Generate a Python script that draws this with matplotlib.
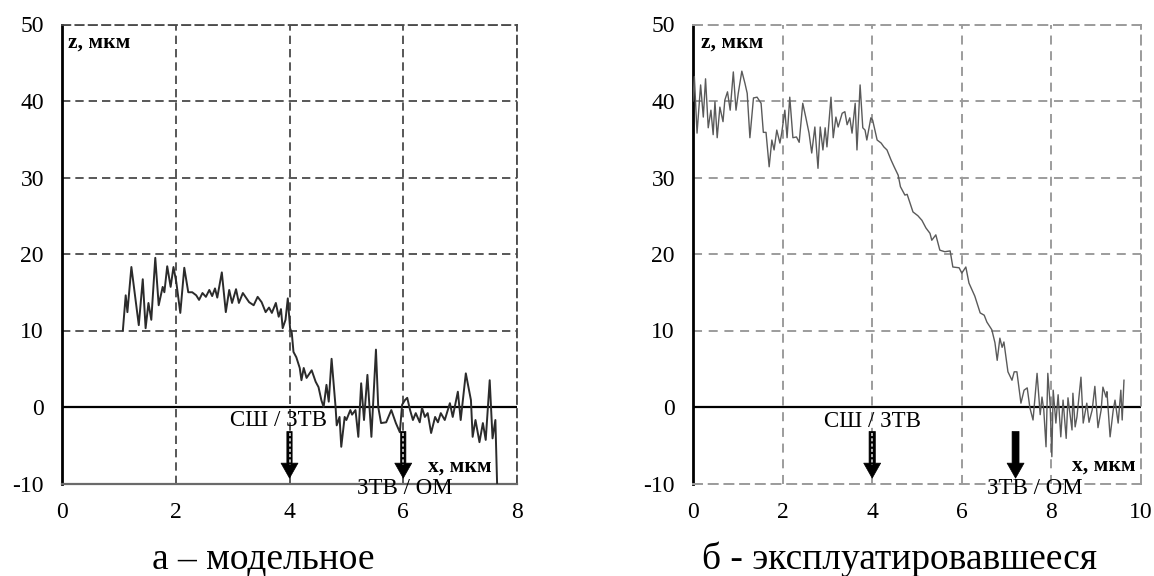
import matplotlib
matplotlib.use("Agg")
import matplotlib.pyplot as plt

plt.rcParams['font.family'] = ['Liberation Serif', 'DejaVu Serif']
plt.rcParams['lines.scale_dashes'] = False
plt.rcParams['axes.unicode_minus'] = False

# ---- data: left panel (model sample) ----
x_model = [1.07, 1.12, 1.15, 1.22, 1.35, 1.42, 1.47, 1.52, 1.57, 1.64, 1.70, 1.77, 1.80, 1.85, 1.91,
           1.96, 2.01, 2.08, 2.15, 2.22, 2.29, 2.36, 2.41, 2.47, 2.53, 2.59, 2.64, 2.69, 2.73, 2.81,
           2.88, 2.94, 2.99, 3.06, 3.11, 3.18, 3.29, 3.37, 3.44, 3.51, 3.58, 3.64, 3.69, 3.76, 3.81,
           3.85, 3.88, 3.93, 3.97, 4.01, 4.04, 4.07, 4.12, 4.18, 4.21, 4.25, 4.30, 4.39, 4.46, 4.51,
           4.56, 4.60, 4.65, 4.69, 4.74, 4.81, 4.83, 4.88, 4.91, 4.97, 5.00, 5.07, 5.10, 5.16, 5.21,
           5.26, 5.31, 5.37, 5.44, 5.52, 5.56, 5.61, 5.70, 5.79, 5.87, 5.94, 5.98, 6.03, 6.07, 6.12,
           6.17, 6.22, 6.29, 6.33, 6.38, 6.43, 6.49, 6.56, 6.61, 6.66, 6.73, 6.82, 6.87, 6.96, 7.01,
           7.10, 7.19, 7.22, 7.27, 7.34, 7.40, 7.45, 7.52, 7.57, 7.62, 7.65]
z_model = [10.0, 14.6, 12.4, 18.3, 10.7, 16.7, 10.3, 13.6, 11.4, 19.5, 13.3, 15.7, 15.0, 18.4, 15.7,
           18.3, 16.3, 12.3, 18.2, 15.0, 15.0, 14.6, 14.0, 14.9, 14.4, 15.3, 14.5, 15.5, 14.3, 17.6,
           12.4, 15.3, 13.6, 15.4, 13.6, 14.9, 13.7, 13.3, 14.4, 13.7, 12.4, 13.0, 12.3, 13.6, 11.8,
           12.8, 10.3, 11.4, 14.2, 10.3, 9.7, 7.2, 6.5, 5.1, 3.5, 5.1, 3.8, 4.8, 3.3, 2.6,
           0.9, 0.0, 2.9, 0.7, 6.3, 0.0, -2.4, -1.3, -5.2, -1.3, -1.7, -0.4, -1.0, -0.4, -3.9,
           3.1, -1.7, 4.2, -3.9, 7.5, 0.0, -2.1, -2.0, -0.4, -2.1, -3.3, 0.3, 0.9, 1.2, -0.4,
           -1.7, -0.8, -2.0, -0.1, -1.3, -0.8, -3.4, -1.3, -2.0, -0.8, -1.7, 0.5, -1.3, 2.0, -1.7,
           4.4, 0.9, -3.9, -1.7, -4.6, -2.1, -4.3, 3.5, -4.1, -1.7, -10.0]

# ---- data: right panel (operated sample) ----
x_oper = [0.00, 0.03, 0.09, 0.17, 0.23, 0.28, 0.34, 0.40, 0.45, 0.49, 0.54, 0.60, 0.67, 0.71, 0.77,
          0.83, 0.90, 0.96, 1.01, 1.09, 1.16, 1.21, 1.27, 1.35, 1.43, 1.52, 1.57, 1.63, 1.70, 1.76,
          1.81, 1.87, 1.94, 1.98, 2.05, 2.10, 2.16, 2.23, 2.31, 2.37, 2.45, 2.52, 2.59, 2.65, 2.72,
          2.79, 2.84, 2.90, 2.95, 2.99, 3.08, 3.13, 3.19, 3.24, 3.33, 3.39, 3.44, 3.50, 3.55, 3.62,
          3.66, 3.73, 3.79, 3.84, 3.88, 3.97, 4.01, 4.06, 4.11, 4.20, 4.26, 4.33, 4.42, 4.49, 4.58,
          4.63, 4.73, 4.78, 4.91, 5.02, 5.11, 5.20, 5.29, 5.33, 5.42, 5.51, 5.62, 5.74, 5.80, 5.94,
          6.00, 6.09, 6.16, 6.29, 6.41, 6.50, 6.56, 6.67, 6.74, 6.79, 6.85, 6.90, 6.94, 7.03, 7.12,
          7.17, 7.23, 7.32, 7.39, 7.46, 7.52, 7.59, 7.68, 7.75, 7.79, 7.83, 7.88, 7.92, 7.97, 8.01,
          8.04, 8.10, 8.15, 8.21, 8.26, 8.33, 8.37, 8.46, 8.48, 8.53, 8.57, 8.66, 8.71, 8.79, 8.84,
          8.91, 8.97, 9.04, 9.11, 9.15, 9.22, 9.24, 9.31, 9.38, 9.42, 9.49, 9.55, 9.58, 9.62]
z_oper = [40.0, 43.2, 35.8, 42.1, 37.9, 42.9, 36.5, 38.8, 35.6, 39.9, 35.2, 39.2, 37.3, 40.1, 41.2,
          38.8, 43.8, 38.8, 41.0, 43.9, 42.3, 41.0, 35.2, 40.4, 40.5, 39.7, 35.9, 35.9, 31.4, 34.9,
          33.6, 36.2, 34.5, 35.8, 38.8, 35.2, 40.5, 35.2, 35.3, 34.6, 39.7, 37.8, 35.8, 33.2, 36.6,
          31.2, 36.6, 33.6, 36.5, 34.0, 40.5, 35.2, 37.9, 36.6, 38.4, 38.6, 36.9, 37.8, 35.8, 39.7,
          33.6, 42.1, 36.5, 36.2, 34.9, 37.8, 37.5, 36.2, 34.9, 34.5, 34.0, 33.6, 32.3, 31.4, 30.3,
          28.8, 27.7, 27.8, 25.5, 25.0, 24.4, 23.4, 22.7, 21.8, 22.5, 20.5, 20.3, 20.4, 18.3, 18.2,
          17.5, 18.3, 16.2, 14.5, 12.3, 12.0, 11.1, 10.1, 8.4, 6.1, 9.0, 7.8, 8.5, 4.6, 3.5,
          4.6, 4.6, 0.5, 2.2, 2.5, -0.1, -1.7, 4.4, -1.0, 1.3, -0.4, -5.2, 4.4, 0.5, -6.5,
          2.2, -2.1, 1.6, -3.9, 0.9, -4.1, 1.2, -3.0, 1.8, -2.6, -1.3, 3.9, -2.1, 0.5, -2.0,
          -0.4, 2.7, -2.7, -0.4, 2.6, 1.3, 2.0, -3.9, -0.4, 0.9, -2.1, 2.2, -1.7, 3.5]

y_ticks = [-10, 0, 10, 20, 30, 40, 50]
x_ticks_left = [0, 2, 4, 6, 8]
x_ticks_right = [0, 2, 4, 6, 8, 10]
y_label = "z, мкм"
x_label = "x, мкм"
boundary1 = "СШ / ЗТВ"
boundary2 = "ЗТВ / ОМ"
caption_left = "а – модельное"
caption_right = "б - эксплуатировавшееся"
arrows_left = [4.0, 6.0]
arrows_right = [4.0, 7.2]

W, H = 1154, 576
fig = plt.figure(figsize=(W / 100, H / 100), dpi=100)
fig.patch.set_facecolor('white')

bot = 1 - 483.5 / H
hgt = (483.5 - 24.5) / H
ax1 = fig.add_axes([62 / W, bot, (517 - 62) / W, hgt])
ax2 = fig.add_axes([693 / W, bot, (1141 - 693) / W, hgt])


def style(ax, xticks, xmax, gcol, glw, dash, bottom_solid):
    ax.set_xlim(0, xmax)
    ax.set_ylim(-10, 50)
    ax.set_xticks(xticks)
    ax.set_yticks(y_ticks)
    ax.tick_params(length=0, labelsize=17, pad=13)
    ax.grid(True, color=gcol, lw=glw, linestyle=(0, dash))
    ax.set_axisbelow(True)
    ax.spines['left'].set_color('black')
    ax.spines['left'].set_linewidth(2.0)
    for s in ['top', 'right']:
        ax.spines[s].set_color(gcol)
        ax.spines[s].set_linewidth(glw)
        ax.spines[s].set_linestyle((0, dash))
    if bottom_solid:
        ax.spines['bottom'].set_color('#6a6a6a')
        ax.spines['bottom'].set_linewidth(1.6)
    else:
        ax.spines['bottom'].set_color(gcol)
        ax.spines['bottom'].set_linewidth(glw)
        ax.spines['bottom'].set_linestyle((0, dash))
    ax.axhline(0, color='black', lw=1.6, zorder=2)


style(ax1, x_ticks_left, 8, '#4a4a4a', 1.3, (6, 3.6), True)
style(ax2, x_ticks_right, 10, '#9c9c9c', 1.4, (6.5, 4.8), False)

ax1.plot(x_model, z_model, color='#2b2b2b', lw=1.4, zorder=3)
ax2.plot(x_oper, z_oper, color='#5a5a5a', lw=1.0, zorder=3)


def arrow(ax, x, hollow, tail=0.38):
    style_str = f"simple,head_length=1.08,head_width=1.22,tail_width={tail}"
    ax.annotate('', xy=(x, -9.3), xytext=(x, -3.2),
                arrowprops=dict(arrowstyle=style_str, color='black', mutation_scale=10,
                                shrinkA=0, shrinkB=0, lw=0.5),
                zorder=5)
    if hollow:
        ax.plot([x, x], [-3.4, -7.6], color='#b8b8b8', lw=1.4,
                linestyle=(0, (2.2, 1.6)), zorder=6, solid_capstyle='butt')


for xa in arrows_left:
    arrow(ax1, xa, True)
arrow(ax2, arrows_right[0], True, tail=0.45)
arrow(ax2, arrows_right[1], False, tail=0.5)

# labels inside axes
ax1.text(0.1, 47.7, y_label, fontsize=15.5, fontweight='bold', ha='left', va='center')
ax2.text(0.18, 47.7, y_label, fontsize=15.5, fontweight='bold', ha='left', va='center')
ax1.text(7.56, -7.8, x_label, fontsize=15.5, fontweight='bold', ha='right', va='center')
ax2.text(9.87, -7.6, x_label, fontsize=15.5, fontweight='bold', ha='right', va='center')

ax1.text(3.8, -1.8, boundary1, fontsize=16.5, ha='center', va='center', zorder=7)
ax2.text(4.0, -1.9, boundary1, fontsize=16.5, ha='center', va='center', zorder=7)
ax1.text(6.03, -10.7, boundary2, fontsize=16.5, ha='center', va='center', zorder=7, clip_on=False)
ax2.text(7.62, -10.6, boundary2, fontsize=16.5, ha='center', va='center', zorder=7, clip_on=False)

fig.text(263 / W, 1 - 559 / H, caption_left, fontsize=27, ha='center', va='center')
fig.text(899 / W, 1 - 559 / H, caption_right, fontsize=27, ha='center', va='center')

fig.savefig('out.png', dpi=100, facecolor='white')
